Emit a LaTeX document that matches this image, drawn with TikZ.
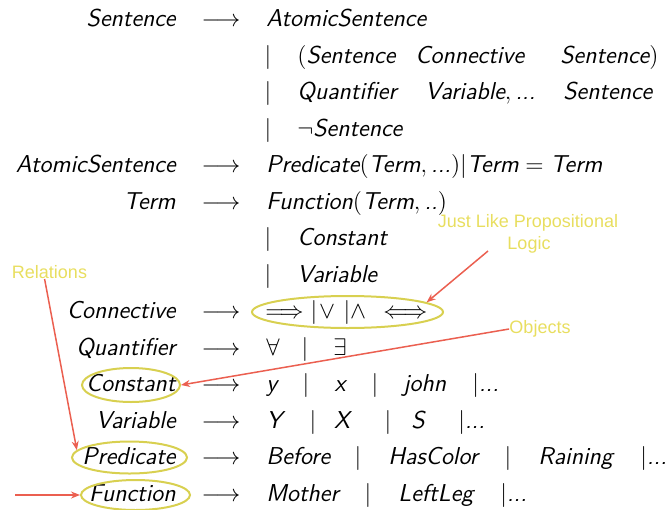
\documentclass[tikz,border=0pt]{standalone}
\usepackage{fontspec}
\newfontfamily\annfont{Liberation Sans}
\usetikzlibrary{shapes.geometric,arrows.meta}
\definecolor{anncol}{RGB}{232,222,95}
\definecolor{ellcol}{RGB}{216,208,80}
\definecolor{arrcol}{RGB}{235,95,80}
\begin{document}
\begin{tikzpicture}[x=0.5pt,y=-0.5pt,
  g/.style={inner sep=0pt, font=\fontsize{12.2}{14}\selectfont\sffamily\slshape},
  lhs/.style={g, anchor=base east},
  rhs/.style={g, anchor=base west},
  sym/.style={g, anchor=base},
  ann/.style={inner sep=0pt, text=anncol, font=\annfont\fontsize{9}{11}\selectfont},
  hl/.style={draw=ellcol, line width=1pt, ellipse, inner sep=0pt},
  pt/.style={draw=arrcol, line width=0.75pt, -{Stealth[length=4.5pt,width=3.5pt]}}]
\useasboundingbox (0,0) rectangle (669,509);
% row 1
\node[lhs] (l1) at (176,26.5) {Sentence};
\node[sym] (a1) at (221,26.5) {$\longrightarrow$};
\node[rhs] (r1) at (266,26.5) {AtomicSentence};
% row 2
\node[sym] (b2) at (268,63) {$|$};
\node[rhs] (r2a) at (297,63) {$($Sentence};
\node[rhs] (r2b) at (415,63) {Connective};
\node[rhs] (r2c) at (560,63) {Sentence$)$};
% row 3
\node[sym] (b3) at (268,99.5) {$|$};
\node[rhs] (r3a) at (297,99.5) {Quantifier};
\node[rhs] (r3b) at (425,99.5) {Variable$,$\,...};
\node[rhs] (r3c) at (563,99.5) {Sentence};
% row 4
\node[sym] (b4) at (268,136) {$|$};
\node[rhs] (r4) at (297,136) {$\neg$Sentence};
% row 5
\node[lhs] (l5) at (176,172.5) {AtomicSentence};
\node[sym] (a5) at (221,172.5) {$\longrightarrow$};
\node[rhs] (r5) at (266,172.5) {Predicate$($Term$,$\,...$)|$Term${}={}$Term};
% row 6
\node[lhs] (l6) at (176,209) {Term};
\node[sym] (a6) at (221,209) {$\longrightarrow$};
\node[rhs] (r6) at (266,209) {Function$($Term$,$\,..$)$};
% row 7
\node[sym] (b7) at (268,245.5) {$|$};
\node[rhs] (r7) at (297,245.5) {Constant};
% row 8
\node[sym] (b8) at (268,282) {$|$};
\node[rhs] (r8) at (297,282) {Variable};
% row 9
\node[lhs] (l9) at (176,318.5) {Connective};
\node[sym] (a9) at (221,318.5) {$\longrightarrow$};
\node[rhs] (c1) at (265,318.5) {$\Longrightarrow$};
\node[sym] (c2) at (314,318.5) {$|$};
\node[sym] (c3) at (327,318.5) {$\vee$};
\node[sym] (c4) at (347,318.5) {$|$};
\node[sym] (c5) at (358,318.5) {$\wedge$};
\node[rhs] (c6) at (383,318.5) {$\Longleftrightarrow$};
% row 10
\node[lhs] (l10) at (176,355) {Quantifier};
\node[sym] (a10) at (221,355) {$\longrightarrow$};
\node[sym] (q1) at (273,355) {$\forall$};
\node[sym] (q2) at (305,355) {$|$};
\node[sym] (q3) at (340,355) {$\exists$};
% row 11
\node[lhs] (l11) at (176,391.5) {Constant};
\node[sym] (a11) at (221,391.5) {$\longrightarrow$};
\node[rhs] (k1) at (266,391.5) {y};
\node[sym] (k2) at (306,391.5) {$|$};
\node[sym] (k3) at (340,391.5) {x};
\node[sym] (k4) at (375,391.5) {$|$};
\node[rhs] (k5) at (403,391.5) {john};
\node[rhs] (k6) at (472,391.5) {$|$...};
% row 12
\node[lhs] (l12) at (176,428) {Variable};
\node[sym] (a12) at (221,428) {$\longrightarrow$};
\node[rhs] (v1) at (266,428) {Y};
\node[sym] (v2) at (313,428) {$|$};
\node[sym] (v3) at (342,428) {X};
\node[sym] (v4) at (388,428) {$|$};
\node[sym] (v5) at (418,428) {S};
\node[rhs] (v6) at (458,428) {$|$...};
% row 13
\node[lhs] (l13) at (176,464.5) {Predicate};
\node[sym] (a13) at (221,464.5) {$\longrightarrow$};
\node[rhs] (p1) at (266,464.5) {Before};
\node[sym] (p2) at (358,464.5) {$|$};
\node[rhs] (p3) at (388,464.5) {HasColor};
\node[sym] (p4) at (508,464.5) {$|$};
\node[rhs] (p5) at (538,464.5) {Raining};
\node[rhs] (p6) at (640,464.5) {$|$...};
% row 14
\node[lhs] (l14) at (176,501) {Function};
\node[sym] (a14) at (221,501) {$\longrightarrow$};
\node[rhs] (f1) at (266,501) {Mother};
\node[sym] (f2) at (368,501) {$|$};
\node[rhs] (f3) at (398,501) {LeftLeg};
\node[rhs] (f4) at (500,501) {$|$...};
% highlight ellipses
\node[hl, minimum width=95.5pt, minimum height=16pt] (eConn) at (347.5,312) {};
\node[hl, minimum width=49pt, minimum height=17pt] (eConst) at (131,385) {};
\node[hl, minimum width=57.5pt, minimum height=16pt] (ePred) at (129.5,457.5) {};
\node[hl, minimum width=54.5pt, minimum height=15pt] (eFunc) at (135.5,495) {};
% annotations
\node[ann] (jl) at (528,223) {Just Like Propositional};
\node[ann] (lg) at (529,245) {Logic};
\node[ann] (rel) at (49.5,272) {Relations};
\node[ann] (obj) at (540,329) {Objects};
\coordinate (lgTail) at (488,251);
\coordinate (fnTail) at (15,495);
\draw[pt] (lgTail) -- (eConn.7);
\draw[pt] (obj.west) -- (eConst.east);
\draw[pt] (rel.-125) -- (ePred.172);
\draw[pt] (fnTail) -- (eFunc.west);
\end{tikzpicture}
\end{document}
